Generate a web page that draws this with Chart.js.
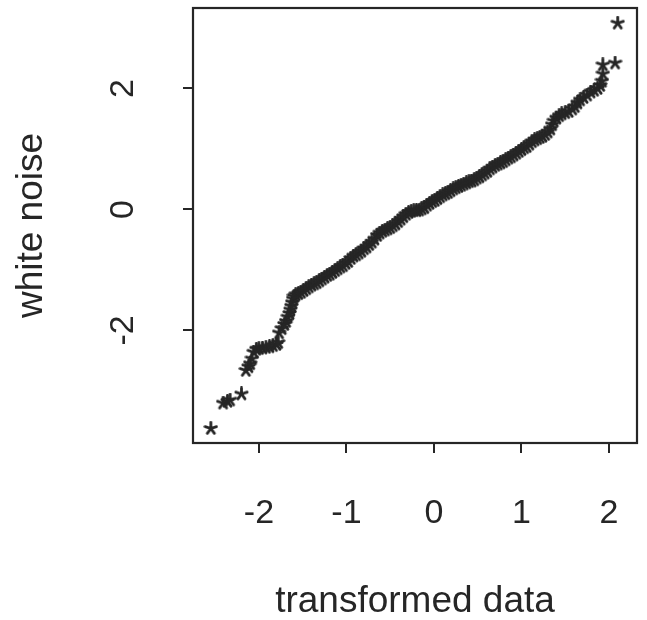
<!DOCTYPE html>
<html>
<head>
<meta charset="utf-8">
<script src="https://cdn.jsdelivr.net/npm/chart.js@4"></script>
<style>
  html, body { margin: 0; padding: 0; background: #fff; }
  #wrap { width: 647px; height: 620px; }
</style>
</head>
<body>
<div id="wrap"><canvas id="qqChart"></canvas></div>
<script>
"use strict";

var xTicks = [-2, -1, 0, 1, 2];
var yTicks = [-2, 0, 2];

// quantiles of the transformed data (x) against sorted white noise (y)
var transformed = [
  -2.55, -2.41, -2.36, -2.33, -2.20, -2.15, -2.12, -2.10, -2.08, -2.06,
  -2.03, -2.00, -1.96, -1.92, -1.88, -1.84, -1.80, -1.78, -1.77, -1.74,
  -1.71, -1.69, -1.67, -1.65, -1.64, -1.63, -1.62, -1.61, -1.60, -1.58,
  -1.55, -1.52, -1.49, -1.46, -1.43, -1.40, -1.37, -1.34, -1.31, -1.28,
  -1.25, -1.22, -1.19, -1.16, -1.13, -1.10, -1.07, -1.04, -1.01, -0.98,
  -0.95, -0.92, -0.89, -0.86, -0.83, -0.80, -0.77, -0.74, -0.71, -0.68,
  -0.65, -0.62, -0.59, -0.56, -0.53, -0.50, -0.47, -0.44, -0.41, -0.38,
  -0.35, -0.32, -0.29, -0.26, -0.23, -0.20, -0.17, -0.14, -0.11, -0.08,
  -0.05, -0.02, 0.01, 0.04, 0.07, 0.10, 0.13, 0.16, 0.19, 0.22,
  0.25, 0.28, 0.31, 0.34, 0.37, 0.40, 0.43, 0.46, 0.49, 0.52,
  0.55, 0.58, 0.61, 0.64, 0.67, 0.70, 0.73, 0.76, 0.79, 0.82,
  0.85, 0.88, 0.91, 0.94, 0.97, 1.00, 1.03, 1.06, 1.09, 1.12,
  1.15, 1.18, 1.21, 1.24, 1.27, 1.30, 1.33, 1.35, 1.37, 1.40,
  1.43, 1.46, 1.50, 1.54, 1.58, 1.61, 1.64, 1.67, 1.71, 1.75,
  1.79, 1.83, 1.87, 1.90, 1.92, 1.93, 1.93, 2.07, 2.10
];
var whiteNoise = [
  -3.62, -3.20, -3.17, -3.15, -3.05, -2.66, -2.60, -2.55, -2.47, -2.36,
  -2.31, -2.30, -2.29, -2.28, -2.27, -2.25, -2.23, -2.20, -2.04, -1.97,
  -1.90, -1.85, -1.78, -1.72, -1.66, -1.60, -1.54, -1.48, -1.44, -1.41,
  -1.39, -1.37, -1.34, -1.31, -1.28, -1.25, -1.23, -1.21, -1.18, -1.15,
  -1.12, -1.09, -1.07, -1.04, -1.01, -0.98, -0.95, -0.93, -0.89, -0.86,
  -0.81, -0.77, -0.75, -0.72, -0.69, -0.65, -0.62, -0.58, -0.54, -0.49,
  -0.43, -0.39, -0.36, -0.34, -0.32, -0.30, -0.27, -0.24, -0.20, -0.16,
  -0.12, -0.08, -0.05, -0.03, -0.02, -0.02, -0.01, 0.01, 0.03, 0.07,
  0.10, 0.13, 0.15, 0.18, 0.21, 0.24, 0.26, 0.28, 0.31, 0.34,
  0.36, 0.38, 0.40, 0.42, 0.44, 0.46, 0.47, 0.49, 0.52, 0.54,
  0.57, 0.60, 0.63, 0.67, 0.70, 0.73, 0.75, 0.77, 0.79, 0.82,
  0.85, 0.87, 0.90, 0.93, 0.96, 0.99, 1.02, 1.04, 1.08, 1.12,
  1.15, 1.17, 1.19, 1.21, 1.24, 1.28, 1.33, 1.40, 1.46, 1.51,
  1.55, 1.58, 1.60, 1.62, 1.66, 1.70, 1.76, 1.81, 1.85, 1.89,
  1.94, 1.97, 2.00, 2.05, 2.12, 2.24, 2.39, 2.42, 3.08
];

var INK = "#262626";
var FONT = "'Liberation Sans', Arial, Helvetica, sans-serif";

// asterisk marker, five spokes
function makeAsterisk(size) {
  var c = document.createElement("canvas");
  c.width = size;
  c.height = size;
  var g = c.getContext("2d");
  var r = size / 2 - 1.5;
  g.strokeStyle = INK;
  g.lineWidth = 2.8;
  g.lineCap = "round";
  g.beginPath();
  for (var i = 0; i < 5; i++) {
    var a = -Math.PI / 2 + (i * 2 * Math.PI) / 5;
    g.moveTo(size / 2, size / 2);
    g.lineTo(size / 2 + r * Math.cos(a), size / 2 + r * Math.sin(a));
  }
  g.stroke();
  return c;
}

var boxPlugin = {
  id: "box",
  beforeDatasetsDraw: function (chart) {
    var a = chart.chartArea;
    var ctx = chart.ctx;
    ctx.save();
    ctx.strokeStyle = INK;
    ctx.lineWidth = 2.2;
    ctx.strokeRect(a.left, a.top, a.right - a.left, a.bottom - a.top);
    ctx.restore();
  },
};

function noOverhang(s) {
  s.paddingTop = 0;
  s.paddingBottom = 0;
  s.paddingLeft = 0;
  s.paddingRight = 0;
}

var points = transformed.map(function (x, i) {
  return { x: x, y: whiteNoise[i] };
});

new Chart(document.getElementById("qqChart"), {
  type: "scatter",
  data: {
    datasets: [
      {
        data: points,
        pointStyle: makeAsterisk(15),
        pointRadius: 7,
        clip: false,
      },
    ],
  },
  options: {
    responsive: true,
    maintainAspectRatio: false,
    animation: false,
    devicePixelRatio: 1,
    layout: { padding: { top: 8, right: 10, left: 0, bottom: 0 } },
    plugins: {
      legend: { display: false },
      tooltip: { enabled: false },
    },
    scales: {
      x: {
        type: "linear",
        min: -2.754,
        max: 2.32,
        afterBuildTicks: function (s) {
          s.ticks = xTicks.map(function (v) {
            return { value: v };
          });
        },
        afterFit: function (s) {
          s.height = 177;
          noOverhang(s);
        },
        border: { display: false },
        grid: {
          drawOnChartArea: false,
          drawTicks: true,
          tickLength: 10,
          color: INK,
          lineWidth: 2,
        },
        ticks: {
          color: INK,
          font: { family: FONT, size: 34 },
          padding: 40,
          maxRotation: 0,
        },
        title: {
          display: true,
          text: "transformed data",
          color: INK,
          font: { family: FONT, size: 37, lineHeight: 1.0 },
          padding: { top: 0, bottom: 0 },
        },
      },
      y: {
        type: "linear",
        min: -3.86,
        max: 3.33,
        afterBuildTicks: function (s) {
          s.ticks = yTicks.map(function (v) {
            return { value: v };
          });
        },
        afterFit: function (s) {
          s.width = 193;
          noOverhang(s);
        },
        border: { display: false },
        grid: {
          drawOnChartArea: false,
          drawTicks: true,
          tickLength: 10,
          color: INK,
          lineWidth: 2,
        },
        ticks: {
          color: INK,
          font: { family: FONT, size: 34 },
          padding: 44,
          minRotation: 90,
          maxRotation: 90,
          crossAlign: "center",
        },
        title: {
          display: true,
          text: "white noise",
          color: INK,
          font: { family: FONT, size: 37 },
          padding: { top: 10, bottom: 0 },
        },
      },
    },
  },
  plugins: [boxPlugin],
});
</script>
</body>
</html>
